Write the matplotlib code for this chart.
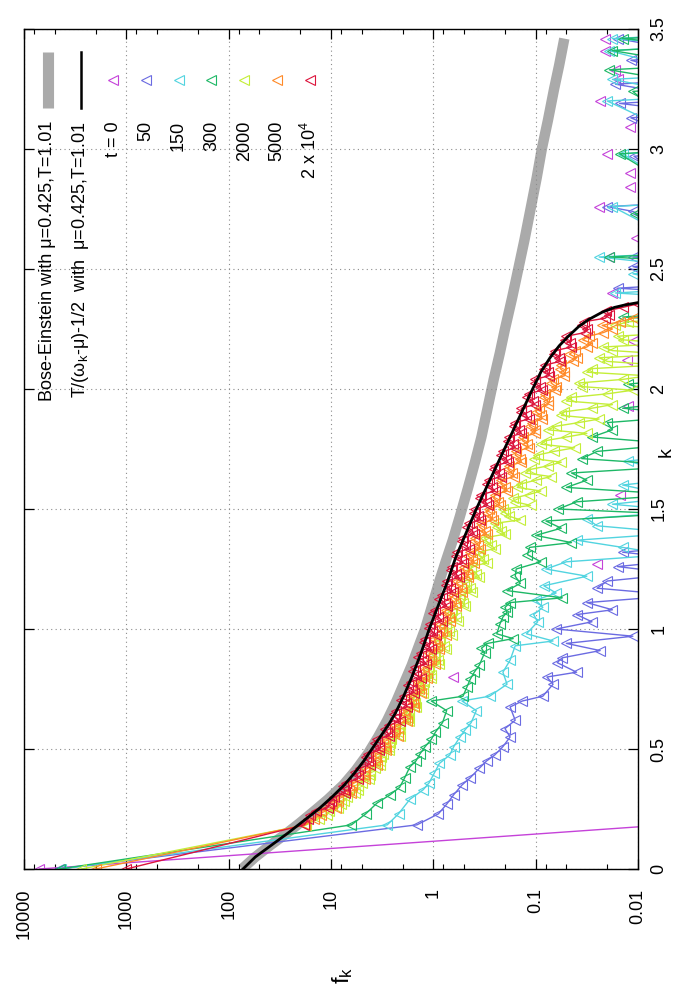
import numpy as np
import matplotlib
matplotlib.use("Agg")
import matplotlib.pyplot as plt
from matplotlib.lines import Line2D
from matplotlib.ticker import FixedLocator, FixedFormatter, LogLocator, NullFormatter

plt.rcParams['font.family'] = ['Liberation Sans', 'DejaVu Sans']
plt.rcParams['mathtext.fontset'] = 'custom'
plt.rcParams['mathtext.rm'] = 'Liberation Sans'
plt.rcParams['mathtext.it'] = 'Liberation Sans'
FS = 13

# ---------------- data (k, log10 f_k) ----------------
be_k = [0.00, 0.05, 0.10, 0.15, 0.19, 0.25, 0.29, 0.35, 0.41, 0.48, 0.55, 0.62, 0.70,
        0.78, 0.85, 0.92, 1.00, 1.10, 1.20, 1.28, 1.37, 1.47, 1.59, 1.70, 1.80, 1.90,
        2.04, 2.15, 2.25, 2.38, 2.50, 2.62, 2.75, 2.88, 3.00, 3.12, 3.25, 3.35, 3.46]
be_log10f = [1.87, 1.74, 1.59, 1.43, 1.31, 1.14, 1.03, 0.88, 0.76, 0.64, 0.54, 0.45, 0.36,
             0.28, 0.21, 0.15, 0.08, 0.01, -0.06, -0.12, -0.19, -0.26, -0.34, -0.41, -0.47,
             -0.52, -0.59, -0.65, -0.70, -0.77, -0.83, -0.89, -0.95, -1.01, -1.06, -1.12,
             -1.18, -1.23, -1.28]

cl_k = [0.00, 0.05, 0.10, 0.15, 0.20, 0.25, 0.30, 0.35, 0.40, 0.45, 0.50, 0.55, 0.60,
        0.65, 0.72, 0.80, 0.90, 1.00, 1.10, 1.20, 1.30, 1.40, 1.50, 1.60, 1.70, 1.80,
        1.90, 2.00, 2.07, 2.13, 2.18, 2.22, 2.26, 2.29, 2.32, 2.34, 2.35, 2.36, 2.37]
cl_log10f = [1.86, 1.74, 1.58, 1.42, 1.27, 1.12, 0.99, 0.87, 0.77, 0.68, 0.60, 0.52, 0.44,
             0.37, 0.29, 0.21, 0.12, 0.04, -0.05, -0.14, -0.22, -0.32, -0.42, -0.53, -0.64,
             -0.75, -0.86, -0.97, -1.05, -1.14, -1.23, -1.32, -1.42, -1.52, -1.65, -1.77,
             -1.87, -2.00, -2.30]

# k grids of the late-time runs (two interleaved sets of modes)
k_dense = [0.21, 0.24, 0.27, 0.30, 0.33, 0.36, 0.39, 0.42, 0.45, 0.48,
           0.51, 0.54, 0.57, 0.60, 0.63, 0.66, 0.69, 0.72, 0.75, 0.78,
           0.81, 0.84, 0.87, 0.90, 0.93, 0.96, 0.99, 1.02, 1.05, 1.08,
           1.11, 1.14, 1.17, 1.20, 1.23, 1.26, 1.29, 1.32, 1.35, 1.38,
           1.41, 1.44, 1.47, 1.50, 1.53, 1.56, 1.59, 1.62, 1.65, 1.68,
           1.71, 1.74, 1.77, 1.80, 1.83, 1.86, 1.89, 1.92, 1.95, 1.98,
           2.01, 2.04, 2.07, 2.10, 2.13, 2.16, 2.19, 2.22, 2.25, 2.28,
           2.31, 2.34, 2.37]
k_dense_b = [0.225, 0.255, 0.285, 0.315, 0.345, 0.375, 0.405, 0.435, 0.465, 0.495,
             0.525, 0.555, 0.585, 0.615, 0.645, 0.675, 0.705, 0.735, 0.765, 0.795,
             0.825, 0.855, 0.885, 0.915, 0.945, 0.975, 1.005, 1.035, 1.065, 1.095,
             1.125, 1.155, 1.185, 1.215, 1.245, 1.275, 1.305, 1.335, 1.365, 1.395,
             1.425, 1.455, 1.485, 1.515, 1.545, 1.575, 1.605, 1.635, 1.665, 1.695,
             1.725, 1.755, 1.785, 1.815, 1.845, 1.875, 1.905, 1.935, 1.965, 1.995,
             2.025, 2.055, 2.085, 2.115, 2.145, 2.175, 2.205, 2.235, 2.265, 2.295,
             2.325, 2.355]
k_low = [0, 0.184]

t20000_low = [3.00, 1.26]
t20000_log10f = [1.22, 1.15, 1.02, 0.97, 0.87, 0.85, 0.74, 0.72, 0.64, 0.64,
                 0.53, 0.55, 0.45, 0.43, 0.37, 0.36, 0.27, 0.29, 0.21, 0.22,
                 0.17, 0.18, 0.10, 0.12, 0.05, 0.08, 0.01, 0.03, -0.05, -0.02,
                 -0.11, -0.08, -0.16, -0.13, -0.22, -0.18, -0.27, -0.23, -0.31, -0.29,
                 -0.38, -0.35, -0.44, -0.41, -0.51, -0.47, -0.57, -0.54, -0.64, -0.60,
                 -0.71, -0.68, -0.78, -0.74, -0.84, -0.80, -0.91, -0.86, -0.97, -0.93,
                 -1.04, -0.99, -1.12, -1.09, -1.23, -1.19, -1.34, -1.30, -1.50, -1.47,
                 -1.72, -1.85, -2.10]
t20000_log10f_b = [1.21, 1.03, 1.00, 0.86, 0.88, 0.74, 0.77, 0.62, 0.66, 0.53,
                   0.57, 0.43, 0.47, 0.33, 0.38, 0.26, 0.32, 0.19, 0.25, 0.12,
                   0.20, 0.07, 0.15, 0.02, 0.09, -0.03, 0.04, -0.08, 0.00, -0.13,
                   -0.06, -0.19, -0.12, -0.25, -0.17, -0.29, -0.22, -0.35, -0.28, -0.40,
                   -0.33, -0.46, -0.40, -0.53, -0.46, -0.60, -0.52, -0.66, -0.59, -0.73,
                   -0.66, -0.80, -0.73, -0.86, -0.79, -0.93, -0.86, -0.99, -0.92, -1.06,
                   -0.99, -1.13, -1.08, -1.24, -1.18, -1.35, -1.29, -1.48, -1.45, -1.68,
                   -1.69, -2.00]

t5000_low = [3.30, 1.25]
t5000_log10f = [1.17, 1.10, 0.99, 0.93, 0.82, 0.79, 0.68, 0.67, 0.57, 0.57,
                0.47, 0.49, 0.38, 0.37, 0.28, 0.29, 0.20, 0.22, 0.14, 0.15,
                0.09, 0.10, 0.02, 0.04, -0.04, -0.01, -0.08, -0.07, -0.15, -0.12,
                -0.21, -0.19, -0.27, -0.23, -0.33, -0.30, -0.38, -0.36, -0.44, -0.41,
                -0.50, -0.47, -0.56, -0.54, -0.63, -0.60, -0.70, -0.66, -0.77, -0.74,
                -0.85, -0.81, -0.92, -0.88, -0.99, -0.96, -1.05, -1.03, -1.12, -1.09,
                -1.20, -1.17, -1.28, -1.25, -1.40, -1.38, -1.55, -1.52, -1.75, -1.82,
                -2.10, np.nan, np.nan]
t5000_log10f_b = [1.10, 0.95, 0.93, 0.80, 0.79, 0.67, 0.68, 0.55, 0.56, 0.46,
                  0.47, 0.35, 0.37, 0.26, 0.28, 0.19, 0.22, 0.12, 0.15, 0.06,
                  0.09, -0.02, 0.04, -0.06, -0.02, -0.12, -0.06, -0.16, -0.11, -0.22,
                  -0.17, -0.28, -0.23, -0.34, -0.29, -0.40, -0.34, -0.46, -0.40, -0.52,
                  -0.45, -0.58, -0.52, -0.65, -0.59, -0.72, -0.66, -0.79, -0.73, -0.86,
                  -0.80, -0.93, -0.87, -0.99, -0.94, -1.06, -1.00, -1.12, -1.08, -1.19,
                  -1.15, -1.28, -1.24, -1.36, -1.33, -1.50, -1.46, -1.66, -1.65, -1.95,
                  -2.10, np.nan]

t2000_low = [3.44, 1.24]
t2000_log10f = [1.12, 1.02, 0.90, 0.84, 0.74, 0.70, 0.62, 0.57, 0.52, 0.49,
                0.43, 0.41, 0.35, 0.33, 0.25, 0.24, 0.18, 0.19, 0.10, 0.09,
                0.02, 0.04, -0.05, -0.02, -0.10, -0.07, -0.15, -0.12, -0.22, -0.18,
                -0.29, -0.26, -0.36, -0.30, -0.42, -0.37, -0.49, -0.44, -0.56, -0.50,
                -0.66, -0.60, -0.74, -0.68, -0.80, -0.93, -0.82, -1.00, -0.90, -1.12,
                -0.98, -1.18, -1.05, -1.30, -1.12, -1.42, -1.25, -1.55, -1.30, -1.70,
                -1.45, -1.85, -1.50, -2.20, -1.62, -1.75, -2.30, -1.80, -2.40, -1.90,
                -2.50, np.nan, np.nan]
t2000_log10f_b = [1.04, 0.93, 0.87, 0.77, 0.74, 0.63, 0.62, 0.52, 0.51, 0.43,
                  0.42, 0.33, 0.34, 0.24, 0.27, 0.17, 0.20, 0.10, 0.13, 0.02,
                  0.05, -0.06, -0.01, -0.12, -0.06, -0.18, -0.12, -0.24, -0.17, -0.31,
                  -0.25, -0.38, -0.32, -0.45, -0.37, -0.52, -0.45, -0.60, -0.52, -0.70,
                  -0.62, -0.85, -0.70, -0.95, -0.78, -1.05, -0.86, -1.15, -0.95, -1.25,
                  -1.02, -1.38, -1.10, -1.50, -1.20, -1.62, -1.28, -1.75, -1.35, -1.95,
                  -1.42, -2.10, -1.55, -1.70, -2.30, -1.66, -1.85, -2.40, -1.78, -2.50,
                  np.nan, np.nan]

t300_k = [0, 0.184, 0.23, 0.275, 0.31, 0.34, 0.38, 0.425, 0.45, 0.48,
          0.51, 0.54, 0.57, 0.61, 0.66, 0.70, 0.72, 0.76, 0.79, 0.82,
          0.85, 0.90, 0.92, 0.94, 0.96, 0.98, 1.02, 1.05, 1.07, 1.09,
          1.11, 1.13, 1.16, 1.19, 1.22, 1.25, 1.28, 1.31, 1.34, 1.36,
          1.39, 1.42, 1.45, 1.48, 1.50, 1.53, 1.56, 1.59, 1.62, 1.65,
          1.68, 1.71, 1.74, 1.77, 1.80, 1.83, 1.86, 1.89, 1.92, 1.95,
          2.02, 2.05, 2.28, 2.30, 2.32, 2.53, 2.55, 2.57, 2.73, 2.75,
          2.98, 3.00, 3.24, 3.26, 3.33, 3.35, 3.41, 3.43, 3.46, 3.48]
t300_log10f = [3.65, 0.80, 0.66, 0.55, 0.42, 0.33, 0.28, 0.23, 0.17, 0.13,
               0.08, 0.02, -0.02, -0.09, -0.13, 0.02, -0.29, -0.33, -0.36, -0.40,
               -0.45, -0.50, -0.47, -0.53, -0.78, -0.62, -0.65, -0.68, -0.72, -0.70,
               -0.75, -1.26, -0.72, -0.85, -0.80, -0.81, -1.05, -0.92, -0.94, -1.35,
               -1.00, -1.25, -1.10, -2.3, -1.22, -1.40, -2.4, -1.30, -1.50, -1.35,
               -2.5, -1.45, -1.60, -2.4, -1.55, -1.75, -1.70, -2.6, -1.85, -2.5,
               -1.90, -2.6, -2.6, -1.85, -2.6, -2.6, -1.72, -2.6, -1.97, -2.7,
               -1.82, -2.6, -1.95, -2.7, -1.72, -2.6, -1.75, -2.6, -1.85, -2.7]

t150_k = [0, 0.184, 0.23, 0.29, 0.33, 0.36, 0.40, 0.44, 0.475, 0.51,
          0.55, 0.58, 0.61, 0.66, 0.70, 0.72, 0.77, 0.82, 0.87, 0.93,
          0.95, 0.98, 1.03, 1.06, 1.09, 1.12, 1.15, 1.18, 1.22, 1.25,
          1.28, 1.31, 1.34, 1.37, 1.40, 1.43, 1.46, 1.49, 1.52, 1.55,
          1.60, 1.63, 1.70, 1.73, 2.38, 2.40, 2.42, 2.48, 2.50, 2.55,
          2.57, 2.76, 2.78, 2.98, 3.00, 3.20, 3.22, 3.29, 3.31, 3.41,
          3.43, 3.46, 3.48]
t150_log10f = [3.64, 0.45, 0.34, 0.23, 0.10, 0.04, -0.01, -0.06, -0.16, -0.20,
               -0.26, -0.31, -0.37, -0.42, -0.28, -0.55, -0.72, -0.68, -0.75, -0.80,
               -1.17, -0.91, -1.02, -0.98, -1.07, -1.00, -1.20, -1.08, -1.50, -1.10,
               -1.30, -2.3, -1.85, -1.40, -2.4, -1.60, -1.50, -2.5, -1.75, -2.4,
               -1.85, -2.5, -1.90, -2.6, -2.6, -1.78, -2.6, -1.95, -2.7, -1.62,
               -2.6, -1.75, -2.6, -1.85, -2.7, -1.70, -2.6, -1.75, -2.6, -1.72,
               -2.6, -1.75, -2.7]

t50_k = [0, 0.184, 0.23, 0.27, 0.31, 0.35, 0.38, 0.42, 0.45, 0.475,
         0.51, 0.55, 0.585, 0.62, 0.675, 0.70, 0.72, 0.77, 0.80, 0.82,
         0.86, 0.88, 0.91, 0.94, 0.97, 1.00, 1.03, 1.06, 1.08, 1.11,
         1.14, 1.17, 1.20, 1.23, 1.26, 1.29, 1.32, 1.35, 2.40, 2.42,
         2.44, 2.51, 2.53, 2.55, 2.57, 2.74, 2.76, 2.78, 2.97, 2.99,
         3.13, 3.15, 3.19, 3.21, 3.27, 3.29, 3.37, 3.39, 3.46, 3.48]
t50_log10f = [3.66, 0.16, -0.05, -0.13, -0.20, -0.28, -0.36, -0.45, -0.52, -0.60,
              -0.68, -0.75, -0.70, -0.80, -0.75, -0.87, -1.07, -1.17, -1.11, -1.40,
              -1.21, -1.26, -1.63, -1.30, -1.95, -1.20, -1.55, -1.40, -1.75, -1.50,
              -2.4, -1.60, -1.70, -2.4, -1.80, -2.5, -1.85, -2.6, -2.6, -1.80,
              -2.6, -1.95, -2.6, -1.95, -2.7, -1.95, -1.70, -2.6, -1.96, -2.7,
              -1.93, -2.6, -1.82, -2.6, -1.78, -2.6, -1.93, -2.7, -1.80, -2.7]

t0_k = [0, 0.184, 0.80, 1.27, 1.56, 1.93, 2.12, 2.20, 2.40, 2.55, 2.63, 2.76,
        2.84, 2.90, 2.98, 3.09, 3.20, 3.29, 3.33, 3.41, 3.46]
t0_log10f = [3.85, -2.28, -0.19, -1.60, -1.82, -1.90, -1.89, -1.95, -1.75, -1.72,
             -1.98, -1.62, -1.92, -1.92, -1.70, -1.92, -1.63, -1.80, -1.78, -1.68, -1.68]

series_labels = ["t = 0", "50", "150", "300", "2000", "5000", r"2 x 10$^\mathregular{4}$"]
series_colors = ['#c542d9', '#6b6be2', '#52d4e0', '#1db866', '#c4ee38', '#ff8a28', '#dc143c']

fk_ticks = [1e4, 1e3, 1e2, 1e1, 1e0, 1e-1, 1e-2]
fk_tick_labels = ["10000", "1000", "100", "10", "1", "0.1", "0.01"]
k_ticks = [0, 0.5, 1.0, 1.5, 2.0, 2.5, 3.0, 3.5]
k_tick_labels = ["0", "0.5", "1", "1.5", "2", "2.5", "3", "3.5"]

legend_be = "Bose-Einstein with \u03bc=0.425,T=1.01"
legend_cl = "T/(\u03c9$_\\mathregular{k}$-\u03bc)-1/2  with  \u03bc=0.425,T=1.01"

# ---------------- figure ----------------
W, H = 700, 1000
fig = plt.figure(figsize=(7, 10), dpi=100)
ax = fig.add_axes([24 / W, 131 / H, 614 / W, 840 / H])
ax.set_xscale('log')
ax.set_xlim(1e4, 1e-2)
ax.set_ylim(0, 3.5)


def pw(vals):
    return np.power(10.0, np.array(vals, dtype=float))


mk = dict(marker='<', markersize=7, markerfacecolor='none', markeredgewidth=0.8)
lw_s = 1.0

# Bose-Einstein (thick gray)
ax.plot(pw(be_log10f), be_k, color='#aaaaaa', lw=7.5, solid_capstyle='butt',
        solid_joinstyle='round', zorder=1)

# t = 0: line only between first two points, others isolated markers
ax.plot(pw(t0_log10f[:2]), t0_k[:2], color=series_colors[0], lw=lw_s, zorder=2)
ax.plot(pw(t0_log10f), t0_k, ls='none', color=series_colors[0],
        markeredgecolor=series_colors[0], zorder=2, **mk)

early = [(t50_k, t50_log10f), (t150_k, t150_log10f), (t300_k, t300_log10f)]
for i, (kk, ff) in enumerate(early):
    c = series_colors[i + 1]
    ax.plot(pw(ff), kk, color=c, lw=lw_s, markeredgecolor=c, zorder=3 + i, **mk)

late = [(t2000_low, t2000_log10f, t2000_log10f_b),
        (t5000_low, t5000_log10f, t5000_log10f_b),
        (t20000_low, t20000_log10f, t20000_log10f_b)]
for i, (low, fa, fb) in enumerate(late):
    c = series_colors[i + 4]
    kk = np.array(list(k_low) + list(k_dense) + list(k_dense_b))
    vv = np.array(list(low) + list(fa) + list(fb), dtype=float)
    order = np.argsort(kk, kind='stable')
    kk, vv = kk[order], vv[order]
    ax.plot(pw(vv), kk, color=c, lw=lw_s, markeredgecolor=c, zorder=6 + i, **mk)

# classical curve (black)
ax.plot(pw(cl_log10f), cl_k, color='black', lw=2.0, zorder=10)

# ---------------- axes styling ----------------
ax.xaxis.set_major_locator(FixedLocator(fk_ticks))
ax.xaxis.set_major_formatter(FixedFormatter(fk_tick_labels))
ax.xaxis.set_minor_locator(LogLocator(base=10, subs=(2.0, 5.0, 8.0)))
ax.xaxis.set_minor_formatter(NullFormatter())
ax.yaxis.set_major_locator(FixedLocator(k_ticks))
ax.yaxis.set_major_formatter(FixedFormatter(k_tick_labels))

ax.tick_params(axis='x', which='both', direction='in', top=True, bottom=True,
               labelrotation=90, pad=14, labelsize=FS)
ax.tick_params(axis='x', which='major', length=7, width=0.9)
ax.tick_params(axis='x', which='minor', length=3.5, width=0.8)
ax.tick_params(axis='y', which='major', direction='in', left=True, right=True,
               labelleft=False, labelright=True, labelrotation=90, pad=9,
               length=7, width=0.9, labelsize=FS)
for lab in ax.get_yticklabels():
    lab.set_verticalalignment('center')

ax.grid(True, which='major', linestyle=(0, (1, 3)), color='#8c8c8c', linewidth=0.8)
for sp in ax.spines.values():
    sp.set_linewidth(1.0)
    sp.set_zorder(20)

fig.text(666 / W, 1 - 452 / H, "k", rotation=90, ha='center', va='center', fontsize=FS + 1)
fig.text(343 / W, 1 - 975 / H, r"f$_\mathregular{k}$", rotation=90, ha='center',
         va='center', fontsize=FS + 4)

# ---------------- legend (drawn rotated, like the reference) ----------------
def fx(x):
    return x / W


def fy(y):
    return 1 - y / H


fig.add_artist(Line2D([fx(48), fx(48)], [fy(52), fy(108)], transform=fig.transFigure,
                      color='#aaaaaa', lw=8, solid_capstyle='butt'))
fig.text(fx(48), fy(121), legend_be, rotation=90, ha='center', va='top', fontsize=FS)
fig.add_artist(Line2D([fx(81), fx(81)], [fy(52), fy(108)], transform=fig.transFigure,
                      color='black', lw=1.8))
fig.text(fx(81), fy(121), legend_cl, rotation=90, ha='center', va='top', fontsize=FS)

x0, dx = 113, 32.8
for i, (lab, c) in enumerate(zip(series_labels, series_colors)):
    xc = x0 + i * dx
    fig.add_artist(Line2D([fx(xc)], [fy(80)], transform=fig.transFigure, ls='none',
                          color=c, markeredgecolor=c, **mk))
    fig.text(fx(xc), fy(121), lab, rotation=90, ha='center', va='top', fontsize=FS)

fig.savefig("out.png", dpi=100)
